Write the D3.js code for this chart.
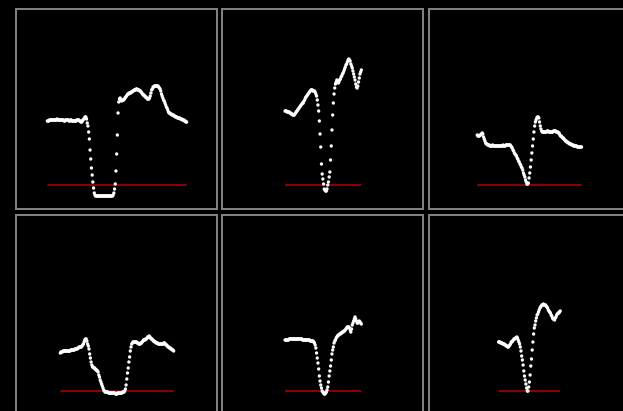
<!DOCTYPE html>
<html>
<head>
<meta charset="utf-8">
<script src="https://cdn.jsdelivr.net/npm/d3@7"></script>
<style>
  html, body { margin: 0; padding: 0; background: #000; }
  svg { display: block; }
</style>
</head>
<body>
<script>
// Sampled traces, one value per sample, measured as height above the baseline.
const trace1 = [
  64,64,64,65,65,65,65,65,65,65, 65,65,65,65,66,65,65,65,65,65,
  65,65,65,65,64,64,65,65,65,65, 65,64,64,65,65,64,64,64,64,64,
  64,64,65,65,65,65,64,64,63,63, 64,65,66,67,68,68,66,62,59,53,
  46,35,26,17,10,3,-3,-8,-10,-11, -11,-11,-11,-11,-11,-11,-11,-11,-11,-11,
  -11,-11,-11,-11,-11,-11,-11,-11,-11,-11, -11,-11,-11,-11,-10,-8,-4,1,14,31,
  50,72,83,86,87,85,84,85,85,85, 86,87,88,89,90,91,91,92,92,92,
  93,93,94,94,95,95,95,96,96,95, 95,95,94,94,93,92,91,90,90,89,
  88,88,87,86,86,86,87,89,92,95, 96,98,98,99,99,99,99,99,99,98,
  97,96,94,91,89,87,85,84,82,80, 78,77,75,73,72,72,71,71,70,70,
  70,69,69,68,68,68,67,67,67,67, 66,66,66,65,65,65,64,64,63,63
];
const trace2 = [
  74,74,74,73,73,73,73,72,72,71, 71,70,70,70,71,72,73,74,75,76,
  77,78,79,80,81,82,82,84,85,87, 88,89,90,91,92,93,94,95,95,95,
  94,94,94,93,91,89,85,80,74,64, 51,38,21,11,6,1,-4,-5,-6,-6,
  -4,0,3,8,13,25,39,55,70,82, 91,97,101,103,105,104,102,103,105,106,
  108,109,111,112,114,116,118,120,121,123, 125,126,125,124,121,119,117,114,111,108,
  105,101,98,97,99,103,107,111,113,115
];
const trace3 = [
  50,49,49,49,50,50,51,52,51,48, 46,44,42,41,41,40,40,40,39,39,
  39,39,40,39,39,39,39,39,39,39, 39,39,39,39,39,39,39,40,39,39,
  39,40,40,40,40,40,40,40,39,38, 37,35,34,32,31,30,29,27,26,24,
  23,21,20,18,17,15,12,10,8,5, 3,1,1,2,7,12,18,25,32,39,
  46,53,59,63,65,67,68,68,67,63, 59,56,54,53,53,53,53,53,53,53,
  54,54,53,53,53,53,53,53,53,54, 54,54,54,53,53,53,52,52,50,49,
  49,48,47,47,46,45,44,44,43,43, 42,42,41,41,41,40,40,40,39,39,
  39,39,39,38,38,38,38,38,38,38
];
const trace4 = [
  38,39,39,39,40,40,40,40,40,40, 40,40,40,40,40,41,41,41,41,41,
  41,42,42,42,42,43,43,44,44,44, 44,45,46,47,49,51,52,52,50,47,
  45,42,37,33,29,26,24,24,23,23, 22,21,21,20,19,16,14,11,9,7,
  5,3,1,0,-1,-1,-1,-1,-1,-2, -2,-2,-2,-2,-2,-2,-2,-2,-2,-3,
  -3,-3,-2,-2,-2,-2,-2,-2,-2,-1, -1,-1,0,2,6,12,18,23,29,34,
  40,44,47,48,49,49,49,49,49,49, 48,48,47,47,47,48,48,49,50,51,
  51,51,52,52,53,54,54,55,54,53, 52,52,51,50,50,49,49,48,48,48,
  47,47,47,47,47,47,47,47,48,48, 47,46,46,45,44,44,43,43,42,42,
  41,41,40
];
const trace5 = [
  51,51,51,51,51,51,52,52,52,52, 52,52,52,52,52,52,52,52,52,52,
  52,52,52,52,52,51,51,51,51,51, 51,51,51,51,51,51,50,50,50,50,
  50,49,48,46,43,38,33,28,22,15, 10,6,3,0,-1,-2,-3,-3,-2,-1,
  1,4,9,15,20,25,31,37,41,44, 48,50,51,53,54,55,56,56,57,57,
  58,58,59,59,60,60,61,62,63,64, 64,64,63,61,59,62,66,68,70,72,
  74,72,70,68,68,69,70,69,68,67
];
const trace6 = [
  49,49,49,48,48,48,47,47,47,46, 46,45,45,44,44,45,46,47,49,49,
  50,51,52,52,53,53,54,53,51,49, 47,44,40,35,31,26,20,15,11,7,
  3,0,0,4,9,16,25,32,41,49, 57,63,66,70,73,76,77,79,81,83,
  84,85,86,86,87,86,86,86,85,84, 83,81,80,79,78,76,75,73,72,72,
  71,73,74,76,77,78,78,79,80
];

const traces = [trace1, trace2, trace3, trace4, trace5, trace6];

const W = 623, H = 411;
const panelLeft = [15, 221, 428];
const panelTop = [8, 214];
const panelW = 203, panelH = 202;
const sampleStep = 0.7;          // horizontal pixels per sample
const baselineOffset = 177;      // baseline distance from panel top

const svg = d3.select("body").append("svg")
  .attr("width", W).attr("height", H);

svg.append("rect").attr("width", W).attr("height", H).attr("fill", "#000");

// Shared vertical scale: value 0 sits on the baseline, one unit per pixel.
const y = d3.scaleLinear().domain([0, baselineOffset]).range([baselineOffset, 0]);

traces.forEach((vals, k) => {
  const col = k % 3, row = Math.floor(k / 3);
  const L = panelLeft[col], T = panelTop[row];
  const g = svg.append("g").attr("transform", `translate(0,${T})`);

  // Panel frame
  g.append("rect")
    .attr("x", L + 1).attr("y", 1)
    .attr("width", panelW - 2).attr("height", panelH - 2)
    .attr("fill", "none")
    .attr("stroke", "#808080")
    .attr("stroke-width", 2);

  const n = vals.length;
  const cx = 117 + col * 206.2;
  const half = (n - 1) * sampleStep / 2;
  const x = d3.scaleLinear().domain([0, n - 1]).range([cx - half, cx + half]);

  // Baseline spanning the trace
  g.append("line")
    .attr("x1", x(0)).attr("x2", x(n - 1))
    .attr("y1", y(0)).attr("y2", y(0))
    .attr("stroke", "#8b0000")
    .attr("stroke-width", 2);

  // Trace samples
  g.selectAll("circle.s")
    .data(vals)
    .join("circle")
    .attr("class", "s")
    .attr("cx", (d, i) => x(i))
    .attr("cy", d => y(d))
    .attr("r", 1.7)
    .attr("fill", "#fff");
});
</script>
</body>
</html>
